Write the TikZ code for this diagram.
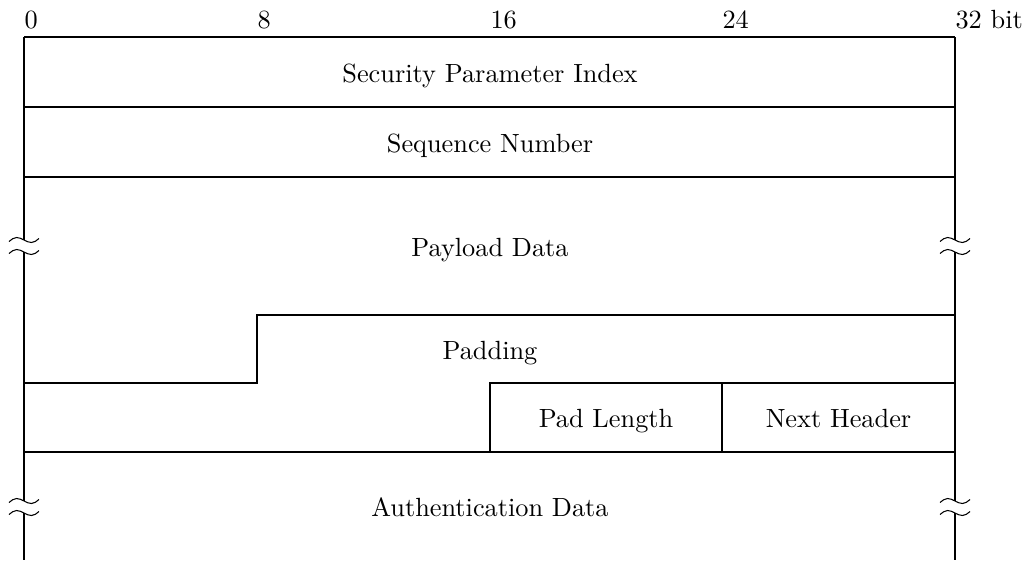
\documentclass[tikz,border=0pt]{standalone}
\usetikzlibrary{positioning}
\begin{document}
\begin{tikzpicture}[x=0.38pt,y=-0.38pt,
  lbl/.style={anchor=base,inner sep=0pt},
  bitlbl/.style={anchor=base west,inner sep=0pt},
  edge/.style={line width=0.4pt},
  tilde/.pic={\draw[edge] (-15,1.5) sin (-7.5,-2.5) cos (0,0) sin (7.5,2.5) cos (15,-1.5);}]
\useasboundingbox (0,0) rectangle (1029,560);
% bit numbers
\node[bitlbl] (b0) at (24,28) {0};
\node[bitlbl] (b8) at (257,28) {8};
\node[bitlbl] (b16) at (490,28) {16};
\node[bitlbl] (b24) at (722,28) {24};
\node[bitlbl] (b32) at (955,28) {32 bit};
% horizontal lines
\draw[edge] (24,37) -- (955,37);
\draw[edge] (24,107) -- (955,107);
\draw[edge] (24,177) -- (955,177);
\draw[edge] (24,383) -- (257,383) -- (257,315) -- (955,315);
\draw[edge] (490,452) -- (490,383) -- (955,383);
\draw[edge] (722,383) -- (722,452);
\draw[edge] (24,452) -- (955,452);
% vertical sides with breaks
\foreach \x in {24,955}{
  \draw[edge] (\x,37) -- (\x,240);
  \draw[edge] (\x,252) -- (\x,501);
  \draw[edge] (\x,513) -- (\x,560);
  \pic at (\x,240) {tilde};
  \pic at (\x,252) {tilde};
  \pic at (\x,501) {tilde};
  \pic at (\x,513) {tilde};
}
% labels
\node[lbl] (spi) at (490,82) {Security Parameter Index};
\node[lbl] (seq) at (490,152) {Sequence Number};
\node[lbl] (pay) at (490,256) {Payload Data};
\node[lbl] (pad) at (490,359) {Padding};
\node[lbl] (padlen) at (606,427) {Pad Length};
\node[lbl] (nh) at (838.5,427) {Next Header};
\node[lbl] (auth) at (490,516) {Authentication Data};
\end{tikzpicture}
\end{document}
